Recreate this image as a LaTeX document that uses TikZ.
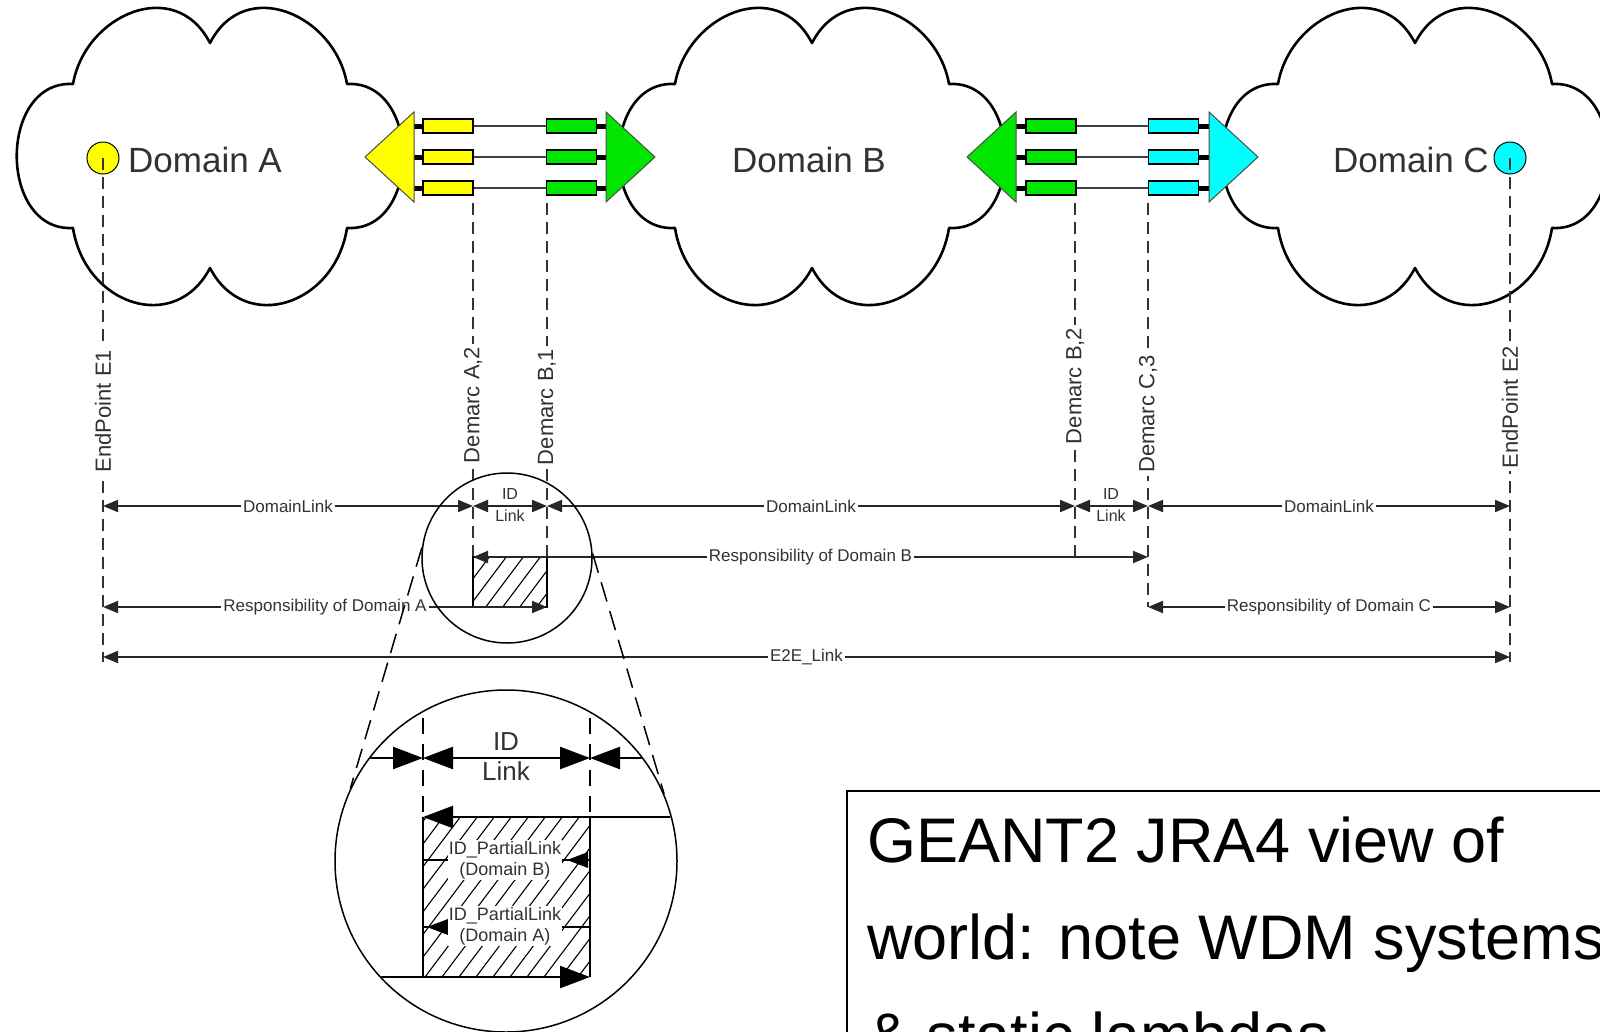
\documentclass[tikz,border=0pt]{standalone}
\usepackage{fontspec}
\setmainfont{Liberation Sans}
\usetikzlibrary{arrows.meta}
\definecolor{wgreen}{RGB}{0,230,0}
\definecolor{wyellow}{RGB}{255,255,0}
\definecolor{wcyan}{RGB}{0,255,255}
\definecolor{txt}{RGB}{50,50,50}
\newcommand{\drawcloud}[2]{%
  \draw[cloud, shift={(#1,#2)}] (-137,-71) .. controls (-125,-140) and (-35,-180) .. (0,-112)
    .. controls (35,-180) and (125,-140) .. (137,-71)
    .. controls (212,-75) and (212,77) .. (137,73)
    .. controls (125,150) and (35,180) .. (0,113)
    .. controls (-35,180) and (-125,150) .. (-137,73)
    .. controls (-212,77) and (-212,-75) .. cycle;}
\begin{document}
\begin{tikzpicture}[x=1pt,y=-1pt,
  cloud/.style={draw=black,line width=2.6pt,fill=white,line join=round},
  tri/.style={draw=black!70,line width=1pt},
  wdm/.style={rectangle,draw=black,line width=1.2pt,minimum width=50pt,minimum height=14pt,inner sep=0pt},
  stub/.style={line width=5pt,black},
  fibre/.style={line width=1.4pt,black!75},
  ept/.style={circle,draw=black,line width=1pt,minimum size=32pt,inner sep=0pt},
  domlbl/.style={text=txt,font=\fontsize{35}{42}\selectfont,inner sep=0pt,anchor=base west},
  vdash/.style={line width=1.6pt,black!80,dash pattern=on 12pt off 7pt},
  vlbl/.style={rotate=90,fill=white,text=txt,font=\fontsize{22}{26}\selectfont,inner sep=3pt},
  dimline/.style={line width=2pt,black!85},
  dim/.style={dimline,arrows={Triangle[length=15pt,width=12pt]-Triangle[length=15pt,width=12pt]}},
  rowlbl/.style={fill=white,text=txt,font=\fontsize{17}{20}\selectfont,inner sep=2pt},
  idlbl/.style={text=txt,font=\fontsize{16}{18}\selectfont,inner sep=0pt},
  hatch/.style={line width=1.1pt,black},
  bigline/.style={line width=2.4pt,black},
  bigdim/.style={bigline,arrows={Triangle[length=30pt,width=22pt]-Triangle[length=30pt,width=22pt]}},
  bigR/.style={bigline,arrows={-Triangle[length=30pt,width=22pt]}},
  bigL/.style={bigline,arrows={Triangle[length=30pt,width=22pt]-}},
  bigdash/.style={line width=2pt,black,dash pattern=on 16pt off 10pt},
  biglbl/.style={text=txt,font=\fontsize{26}{30}\selectfont,inner sep=0pt},
  plbl/.style={fill=white,text=txt,font=\fontsize{18}{21}\selectfont,inner sep=1pt,align=center},
  pline/.style={line width=1.5pt,black},
  tang/.style={line width=1.5pt,black,dash pattern=on 20pt off 10pt},
  mag/.style={circle,draw=black,line width=1.5pt,inner sep=0pt},
  boxtxt/.style={font=\fontsize{63}{70}\selectfont,inner sep=0pt,anchor=base west,text=black}
]
\useasboundingbox (0,0) rectangle (1600,1031);
\fill[white] (0,0) rectangle (1600,1031);

% clouds
\drawcloud{210}{155}
\drawcloud{812}{155}
\drawcloud{1415}{155}

% WDM rectangles
\foreach \y/\n in {126/1,157/2,188/3}{
  \node[wdm,fill=wyellow] (ya\n) at (448,\y) {};
  \node[wdm,fill=wgreen] (gb\n) at (571.5,\y) {};
  \node[wdm,fill=wgreen] (gc\n) at (1051,\y) {};
  \node[wdm,fill=wcyan] (cc\n) at (1173.5,\y) {};
  \draw[fibre] (ya\n.east) -- (gb\n.west);
  \draw[fibre] (gc\n.east) -- (cc\n.west);
  \coordinate (ta\n) at (414,\y);
  \coordinate (tb\n) at (606,\y);
  \coordinate (tc\n) at (1016,\y);
  \coordinate (td\n) at (1209,\y);
  \draw[stub] (ta\n) -- (ya\n.west);
  \draw[stub] (gb\n.east) -- (tb\n);
  \draw[stub] (tc\n) -- (gc\n.west);
  \draw[stub] (cc\n.east) -- (td\n);
}
% triangles
\draw[tri,fill=wyellow] (365,157) -- (414,112) -- (414,202) -- cycle;
\draw[tri,fill=wgreen] (655,157) -- (606,112) -- (606,202) -- cycle;
\draw[tri,fill=wgreen] (967,157) -- (1016,112) -- (1016,202) -- cycle;
\draw[tri,fill=wcyan] (1258,157) -- (1209,112) -- (1209,202) -- cycle;

% domain labels and endpoints
\node[domlbl] (dA) at (128,172) {Domain A};
\node[domlbl] (dB) at (732,172) {Domain B};
\node[domlbl] (dC) at (1333,172) {Domain C};
\node[ept,fill=wyellow] (e1) at (103,158) {};
\node[ept,fill=wcyan] (e2) at (1510,158) {};

% coordinates of verticals
\coordinate (E1b) at (103,662);
\coordinate (E2b) at (1510,662);
\coordinate (A2t) at (473,203);
\coordinate (A2m) at (473,557);
\coordinate (A2b) at (473,607);
\coordinate (B1t) at (547,203);
\coordinate (B1m) at (547,557);
\coordinate (B1b) at (547,607);
\coordinate (B2t) at (1075,203);
\coordinate (B2b) at (1075,557);
\coordinate (C3t) at (1148,203);
\coordinate (C3b) at (1148,607);

\draw[vdash] (e1.center) -- (E1b);
\draw[vdash] (e2.center) -- (E2b);
\draw[vdash] (A2t) -- (A2m);
\draw[vdash] (B1t) -- (B1m);
\draw[vdash] (B2t) -- (B2b);
\draw[vdash] (C3t) -- (C3b);

\node[vlbl] (lE1) at (103,411) {EndPoint E1};
\node[vlbl] (lA2) at (473,405) {Demarc A,2};
\node[vlbl] (lB1) at (547,407) {Demarc B,1};
\node[vlbl] (lB2) at (1075,386) {Demarc B,2};
\node[vlbl] (lC3) at (1148,414) {Demarc C,3};
\node[vlbl] (lE2) at (1510,407) {EndPoint E2};

% small hatched rectangle
\begin{scope}
\clip (473,557) rectangle (547,607);
\foreach \i in {380,397,...,560} \draw[hatch] (\i,612) -- ++(45,-60);
\end{scope}
\draw[line width=1.6pt] (473,557) rectangle (547,607);

% row 1
\coordinate (r1a) at (103,506);
\coordinate (r1b) at (473,506);
\coordinate (r1c) at (547,506);
\coordinate (r1d) at (1075,506);
\coordinate (r1e) at (1148,506);
\coordinate (r1f) at (1510,506);
\draw[dim] (r1a) -- node[rowlbl] {DomainLink} (r1b);
\draw[dim] (r1b) -- (r1c);
\draw[dim] (r1c) -- node[rowlbl] {DomainLink} (r1d);
\draw[dim] (r1d) -- (r1e);
\draw[dim] (r1e) -- node[rowlbl] {DomainLink} (r1f);
\node[idlbl] (id1) at (510,494) {ID};
\node[idlbl] (lk1) at (510,516) {Link};
\node[idlbl] (id2) at (1111,494) {ID};
\node[idlbl] (lk2) at (1111,516) {Link};

% row 2
\coordinate (r2b) at (1148,557);
\draw[dim] (A2m) -- node[rowlbl] {Responsibility of Domain B} (r2b);
% row 3
\coordinate (r3a) at (103,607);
\coordinate (r3f) at (1510,607);
\draw[dim] (r3a) -- node[rowlbl] {Responsibility of Domain A} (B1b);
\draw[dim] (C3b) -- node[rowlbl] {Responsibility of Domain C} (r3f);
% E2E
\coordinate (r4a) at (103,657);
\coordinate (r4f) at (1510,657);
\draw[dim] (r4a) -- node[rowlbl] {E2E\_Link} (r4f);

% magnifier circles
\node[mag,minimum size=170pt] (smallC) at (507,558) {};
\node[mag,minimum size=342pt] (bigC) at (506,861) {};
\draw[tang] (smallC.173) -- (bigC.155.5);
\draw[tang] (smallC.3) -- (bigC.23);

% big circle content
\begin{scope}
\clip (506,861) circle (170pt);
\coordinate (bA) at (423,758);
\coordinate (bB) at (590,758);
\coordinate (bAl) at (330,758);
\coordinate (bBr) at (690,758);
\draw[bigdash] (423,718) -- (423,817);
\draw[bigdash] (590,718) -- (590,817);
\draw[bigR] (bAl) -- (bA);
\draw[bigdim] (bA) -- (bB);
\draw[bigL] (bB) -- (bBr);
\begin{scope}
\clip (423,817) rectangle (590,977);
\foreach \i in {300,317,...,620} \draw[hatch] (\i,985) -- ++(130,-173);
\end{scope}
\draw[bigline] (423,817) -- (423,977);
\draw[bigline] (590,817) -- (590,977);
% partial link remnants
\coordinate (pBl) at (423,860);
\coordinate (pBr) at (590,860);
\coordinate (pAl) at (423,927);
\coordinate (pAr) at (590,927);
\draw[pline] (pBl) -- (pBr);
\draw[pline] (pAl) -- (pAr);
\fill (567,860) -- (588,852) -- (588,868) -- cycle;
\fill (427,927) -- (448,919) -- (448,935) -- cycle;
\coordinate (bR2a) at (423,817);
\coordinate (bR2b) at (690,817);
\draw[bigL] (bR2a) -- (bR2b);
\coordinate (bR3a) at (330,977);
\coordinate (bR3b) at (590,977);
\draw[bigR] (bR3a) -- (bR3b);
\node[biglbl] (bid) at (506,742) {ID};
\node[biglbl] (blk) at (506,771) {Link};
\node[plbl] (pB) at (505,860) {ID\_PartialLink\\(Domain B)};
\node[plbl] (pA) at (505,926) {ID\_PartialLink\\(Domain A)};
\end{scope}

% text box
\draw[line width=1.5pt] (1700,791) -- (847,791) -- (847,1100);
\node[boxtxt] (t1) at (867,862) {GEANT2 JRA4 view of};
\node[boxtxt] (t2) at (867,959) {world: note WDM systems};
\node[boxtxt] (t3) at (867,1057) {\& static lambdas};
\end{tikzpicture}
\end{document}
